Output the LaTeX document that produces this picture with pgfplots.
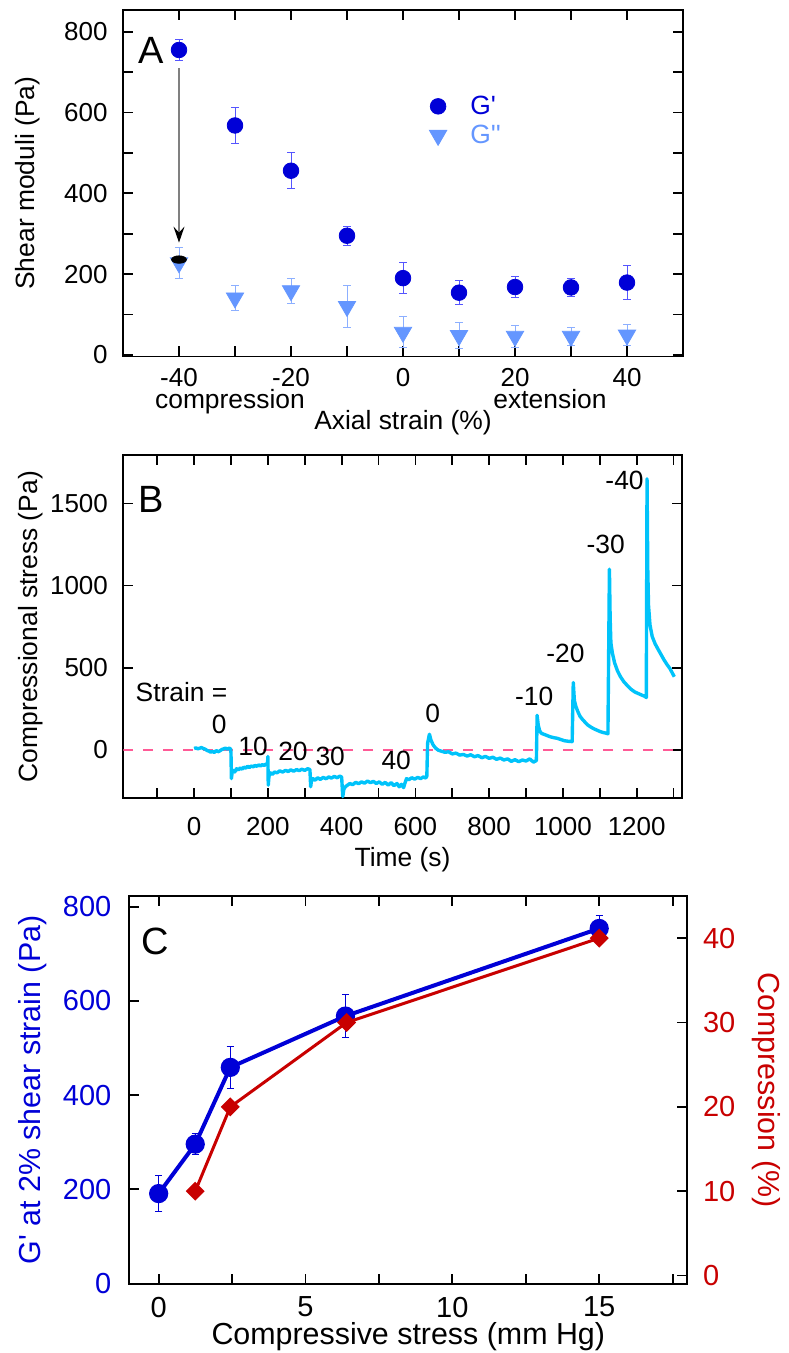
\documentclass[border=0pt]{standalone}
\usepackage{fontspec}
\setmainfont{Liberation Sans}[Ligatures=TeXOff]
\usepackage{pgfplots}
\pgfplotsset{compat=1.18}
\usetikzlibrary{arrows.meta}

\definecolor{gp}{RGB}{0,0,215}
\definecolor{gpe}{RGB}{85,85,255}
\definecolor{gpp}{RGB}{100,150,255}
\definecolor{gppe}{RGB}{140,175,255}
\definecolor{cyanT}{RGB}{0,195,250}
\definecolor{pinkD}{RGB}{255,90,150}
\definecolor{redC}{RGB}{200,0,0}
\definecolor{blueC}{RGB}{0,0,215}

\pgfplotsset{
  myax/.style={
    scale only axis, anchor=south west,
    clip mode=individual,
    axis line style={line width=0.9pt},
    tick style={line width=0.9pt, black},
    major tick length=5pt,
    tick align=inside,
    every tick label/.append style={font=\fontsize{13}{15}\selectfont},
    /pgf/number format/assume math mode=true,
  }
}

\begin{document}
\begin{tikzpicture}
\useasboundingbox (0,0) rectangle (394pt,676.5pt);

% ---------------- Panel A ----------------
\begin{axis}[myax, at={(61.5pt,498.25pt)}, width=280pt, height=173.25pt,
  xmin=-50, xmax=50, ymin=-4, ymax=854,
  xtick={-40,-30,...,40}, xticklabels={-40,,-20,,0,,20,,40},
  ytick={0,100,...,800}, yticklabels={0,,200,,400,,600,,800},
  xticklabel style={inner sep=0pt, yshift=-5.8pt},
  yticklabel style={inner sep=0pt, xshift=-7.5pt},
  every axis x label/.style={at={(axis description cs:0.5,-0.2121)},anchor=base,inner sep=0pt,font=\fontsize{13.2}{16}\selectfont},
  xlabel={Axial strain (\%)},
  every axis y label/.style={at={(axis description cs:-0.171,0.5)},anchor=center,rotate=90,font=\fontsize{13.2}{16}\selectfont},
  ylabel={Shear moduli (Pa)},
  legend style={draw=none, fill=none, at={(0.5465,0.754)}, anchor=north west, inner sep=0pt,
    row sep=3.8pt, column sep=11.8pt, font=\fontsize{13.2}{15}\selectfont, nodes={inner sep=0pt}},
  legend cell align=left,
]
\addplot[only marks, mark=*, mark size=3.9pt, color=gp,
  error bars/.cd, y dir=both, y explicit,
  error bar style={color=gpe, line width=0.5pt},
  error mark options={rotate=90, mark size=1.8pt, color=gpe, line width=0.5pt}]
  coordinates {
  (-40,755) +- (0,25)
  (-30,568) +- (0,45)
  (-20,456) +- (0,45)
  (-10,295) +- (0,23)
  (0,190) +- (0,38)
  (10,154) +- (0,29)
  (20,168) +- (0,25)
  (30,167) +- (0,23)
  (40,179) +- (0,42)
  };
\addlegendentry{\textcolor{gp}{G'}}
\addplot[only marks, mark=triangle*, mark size=5pt, color=gpp, mark options={rotate=180},
  error bars/.cd, y dir=both, y explicit,
  error bar style={color=gppe, line width=0.5pt},
  error mark options={rotate=90, mark size=1.8pt, color=gppe, line width=0.5pt}]
  coordinates {
  (-40,228) +- (0,38)
  (-30,141) +- (0,30)
  (-20,159) +- (0,31)
  (-10,120) +- (0,53)
  (0,56) +- (0,38)
  (10,48) +- (0,31)
  (20,46) +- (0,27)
  (30,46) +- (0,23)
  (40,49) +- (0,26)
  };
\addlegendentry{\textcolor{gpp}{G''}}
\addplot[only marks, mark=*, mark size=3.7pt, black, mark options={yscale=0.5}, forget plot]
  coordinates {(-40,236)};
\draw[gray, line width=0.6pt, -{Stealth[black, length=8pt, width=5.5pt, inset=3pt]}]
  (axis cs:-40,710) -- (axis cs:-40,278);
\node[font=\fontsize{13.2}{16}\selectfont, anchor=base, inner sep=0pt] at (axis description cs:0.191,-0.1495) {compression};
\node[font=\fontsize{13.2}{16}\selectfont, anchor=base, inner sep=0pt] at (axis description cs:0.7625,-0.1495) {extension};
\node[font=\fontsize{19}{22}\selectfont, anchor=base west, inner sep=0pt] at (axis description cs:0.027,0.846) {A};
\end{axis}

% ---------------- Panel B ----------------
\begin{axis}[myax, at={(61.65pt,277.35pt)}, width=279.2pt, height=171.65pt,
  xmin=-192, xmax=1322, ymin=-295, ymax=1795,
  xtick={-100,0,...,1300}, xticklabels={,0,,200,,400,,600,,800,,1000,,1200,},
  ytick={0,500,1000,1500}, yticklabels={0,500,1000,1500},
  xticklabel style={inner sep=0pt, yshift=-9.2pt},
  yticklabel style={inner sep=0pt, xshift=-7.5pt},
  every axis x label/.style={at={(axis description cs:0.5,-0.1992)},anchor=base,inner sep=0pt,font=\fontsize{13.2}{16}\selectfont},
  xlabel={Time (s)},
  every axis y label/.style={at={(axis description cs:-0.166,0.5)},anchor=center,rotate=90,font=\fontsize{13.2}{16}\selectfont},
  ylabel={Compressional stress (Pa)},
]
\addplot[pinkD, line width=0.7pt, dash pattern=on 5pt off 5pt] coordinates {(-192,0) (1322,0)};
\addplot[cyanT, line width=1.7pt, line join=round] coordinates {
(0,8)(5,12)(10,6)(15,10)(20,14)(25,8)(30,4)(35,-4)(40,-8)(45,-14)(50,-10)(55,-16)(60,-4)(65,-12)(70,-6)(75,2)(80,6)(85,10)(90,4)(95,10)(99,5)
(100,-20)(101,-175)(103,-140)(106,-125)(110,-135)(115,-115)(120,-122)(125,-110)(130,-118)(135,-105)(140,-112)(145,-100)(150,-108)(155,-98)(160,-104)(165,-95)(170,-100)(175,-92)(180,-98)(185,-90)(190,-95)(195,-86)(199,-88)
(200,-40)(201,-215)(203,-160)(207,-140)(212,-150)(218,-135)(225,-140)(232,-128)(240,-135)(248,-125)(255,-132)(262,-122)(270,-130)(278,-120)(285,-127)(292,-118)(300,-125)(308,-115)(314,-120)
(316,-225)(318,-190)(322,-175)(328,-185)(335,-170)(342,-180)(350,-168)(358,-176)(365,-165)(372,-172)(380,-162)(388,-170)(395,-160)(400,-166)
(403,-285)(406,-240)(410,-225)(416,-215)(422,-205)(430,-212)(438,-198)(446,-206)(454,-195)(462,-203)(470,-190)(478,-200)(486,-192)(494,-205)(502,-195)(510,-210)(518,-198)(526,-215)(534,-200)(542,-218)(550,-205)(556,-225)(562,-210)(568,-230)(572,-200)(576,-175)(582,-182)(590,-170)(598,-178)(606,-168)(614,-175)(622,-165)(628,-172)(631,-160)
(633,40)(638,95)(642,60)(648,30)(655,10)(662,-2)(670,-8)(680,-15)(690,-12)(700,-25)(710,-20)(720,-32)(730,-28)(740,-38)(750,-30)(760,-42)(770,-35)(780,-48)(790,-40)(800,-52)(810,-45)(820,-58)(830,-50)(840,-62)(850,-55)(860,-70)(870,-60)(880,-72)(890,-62)(900,-68)(910,-55)(920,-75)(928,-65)
(930,210)(933,150)(937,115)(942,100)(948,95)(956,88)(965,80)(975,74)(985,70)(995,62)(1005,55)(1015,52)(1025,50)
(1028,410)(1031,300)(1035,265)(1040,235)(1046,205)(1053,185)(1060,168)(1068,150)(1076,138)(1084,128)(1092,120)(1100,112)(1108,106)(1116,102)(1122,98)
(1126,1100)(1128,800)(1130,650)(1134,590)(1140,530)(1148,480)(1156,445)(1165,415)(1175,390)(1185,368)(1195,352)(1205,342)(1215,332)(1222,326)(1226,318)
(1228,1650)(1230,1100)(1232,880)(1236,760)(1242,690)(1250,645)(1258,612)(1266,580)(1274,548)(1282,520)(1290,495)(1296,470)(1302,445)
};
\begin{scope}[every node/.style={font=\fontsize{13.2}{16}\selectfont, anchor=center, inner sep=0pt}]
\node at (axis cs:-34,349) {Strain =};
\node at (axis cs:68,152) {0};
\node at (axis cs:160,20) {10};
\node at (axis cs:268,-10) {20};
\node at (axis cs:369,-41) {30};
\node at (axis cs:548,-65) {40};
\node at (axis cs:647,219) {0};
\node at (axis cs:922,328) {-10};
\node at (axis cs:1007,586) {-20};
\node at (axis cs:1116,1253) {-30};
\node at (axis cs:1167,1638) {-40};
\end{scope}
\node[font=\fontsize{19}{22}\selectfont, anchor=base west, inner sep=0pt] at (axis description cs:0.027,0.832) {B};
\end{axis}

% ---------------- Panel C ----------------
\begin{axis}[myax, at={(64.65pt,34.5pt)}, width=279pt, height=194pt,
  xmin=-1, xmax=18, ymin=-1, ymax=823,
  xtick={0,2.5,...,17.5}, xticklabels={0,,5,,10,,15,},
  ytick={0,200,...,800}, yticklabels={0,200,400,600,800},
  ytick pos=left,
  every tick label/.append style={font=\fontsize{14.5}{17}\selectfont},
  xticklabel style={inner sep=0pt, yshift=-6.3pt},
  yticklabel style={inner sep=0pt, xshift=-8.8pt, text=blueC},
  every axis x label/.style={at={(axis description cs:0.5,-0.1572)},anchor=base,inner sep=0pt,font=\fontsize{15.2}{18}\selectfont},
  xlabel={Compressive stress (mm Hg)},
  every axis y label/.style={at={(axis description cs:-0.174,0.5)},anchor=center,rotate=90,font=\fontsize{15.2}{18}\selectfont,text=blueC},
  ylabel={G' at 2\% shear strain (Pa)},
]
\addplot[blueC, line width=2pt, mark=*, mark size=3.8pt,
  error bars/.cd, y dir=both, y explicit,
  error bar style={color=blueC, line width=0.6pt},
  error mark options={rotate=90, mark size=1.8pt, color=blueC, line width=0.6pt}]
  coordinates {
  (0,191) +- (0,38)
  (1.245,296) +- (0,22)
  (2.44,459) +- (0,45)
  (6.36,568) +- (0,45)
  (15,754) +- (0,28)
  };
\node[font=\fontsize{19}{22}\selectfont, anchor=base west, inner sep=0pt] at (axis description cs:0.022,0.848) {C};
\end{axis}
\begin{axis}[myax, at={(64.65pt,34.5pt)}, width=279pt, height=194pt,
  xmin=-1, xmax=18, ymin=-1, ymax=45,
  axis x line=none, axis y line*=right, tick align=inside,
  ytick={0,10,...,40}, yticklabels={0,10,20,30,40},
  every tick label/.append style={font=\fontsize{14.5}{17}\selectfont},
  yticklabel style={anchor=west, inner sep=0pt, xshift=7.7pt, text=redC},
  every axis y label/.style={at={(axis description cs:1.1415,0.5)},anchor=center,rotate=-90,font=\fontsize{15.2}{18}\selectfont,text=redC},
  ylabel={Compression (\%)},
]
\addplot[redC, line width=1.5pt, mark=square*, mark size=2.6pt, mark options={rotate=45}]
  coordinates {(1.245,10) (2.44,20) (6.4,30) (15,40)};
\end{axis}
\end{tikzpicture}
\end{document}
